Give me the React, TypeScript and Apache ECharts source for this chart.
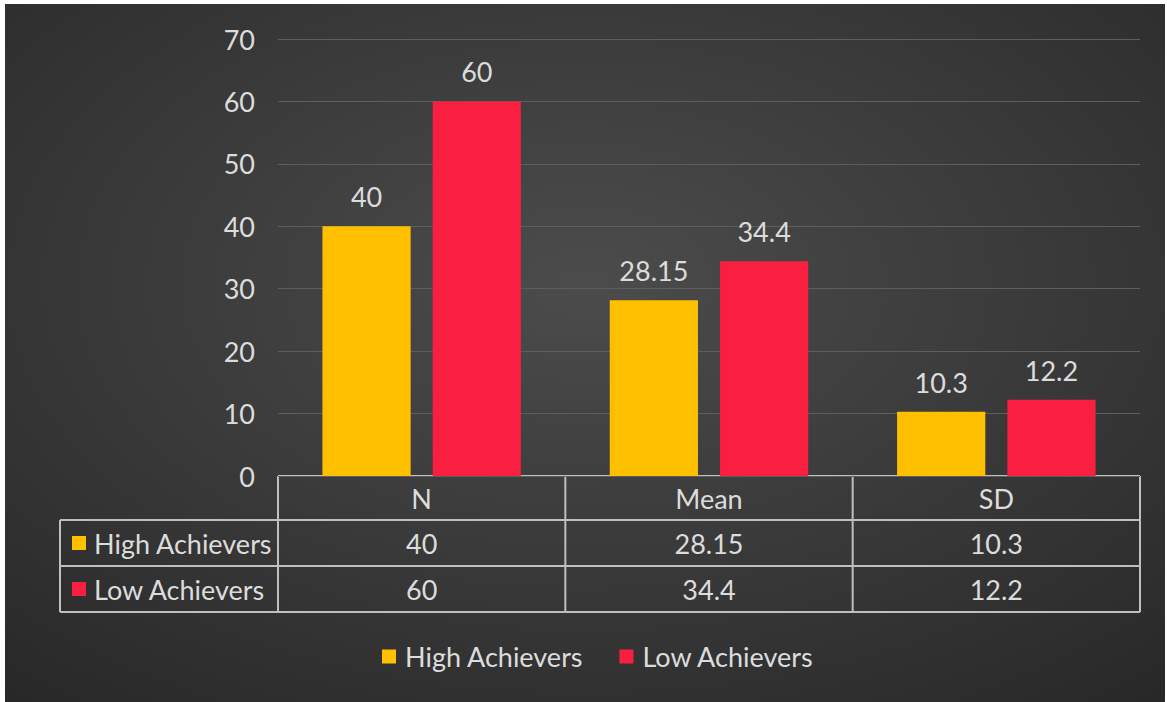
import React, { useEffect, useRef } from "react";
import * as echarts from "echarts";

const categories = ["N", "Mean", "SD"];
const seriesNames = ["High Achievers", "Low Achievers"];
const highValues = [40, 28.15, 10.3];
const lowValues = [60, 34.4, 12.2];
const colors = ["#FFC000", "#F91F40"];
const yMax = 70;
const yInterval = 10;

const W = 1160;
const H = 698;
const G_LEFT = 273;
const G_RIGHT = 25;
const G_TOP = 35;
const G_BOTTOM = 226;
const FONT = "Lato, 'Open Sans', sans-serif";
const FS = 27;
const TXT = "#dcdcdc";
const LINE = "#bfbfbf";

export default function App() {
  const ref = useRef<HTMLDivElement>(null);
  useEffect(() => {
    if (!ref.current) return;
    const chart = echarts.init(ref.current, undefined, { renderer: "svg" });
    const plotW = W - G_LEFT - G_RIGHT;
    const x0 = G_LEFT;
    const x1 = W - G_RIGHT;
    const yTop = H - G_BOTTOM;
    const rowH = [44, 46, 46];
    const y1 = yTop + rowH[0];
    const y2 = y1 + rowH[1];
    const y3 = y2 + rowH[2];
    const leftX = 55;
    const colW = plotW / categories.length;
    const g: any[] = [];
    const ls = { stroke: LINE, lineWidth: 2 };
    g.push({ type: "line", shape: { x1: x0, y1: yTop, x2: x1, y2: yTop }, style: ls });
    g.push({ type: "line", shape: { x1: leftX, y1: y1, x2: x1, y2: y1 }, style: ls });
    g.push({ type: "line", shape: { x1: leftX, y1: y2, x2: x1, y2: y2 }, style: ls });
    g.push({ type: "line", shape: { x1: leftX, y1: y3, x2: x1, y2: y3 }, style: ls });
    g.push({ type: "line", shape: { x1: leftX, y1: y1, x2: leftX, y2: y3 }, style: ls });
    for (let i = 0; i <= categories.length; i++) {
      const x = x0 + i * colW;
      g.push({ type: "line", shape: { x1: x, y1: yTop, x2: x, y2: y3 }, style: ls });
    }
    const rows = [highValues, lowValues];
    categories.forEach((c, i) => {
      const cx = x0 + (i + 0.5) * colW;
      g.push({ type: "text", x: cx, y: (yTop + y1) / 2, style: { text: c, fill: TXT, font: `${FS}px ${FONT}`, textAlign: "center", textVerticalAlign: "middle" } });
      rows.forEach((r, j) => {
        const cy = j === 0 ? (y1 + y2) / 2 : (y2 + y3) / 2;
        g.push({ type: "text", x: cx, y: cy, style: { text: String(r[i]), fill: TXT, font: `${FS}px ${FONT}`, textAlign: "center", textVerticalAlign: "middle" } });
      });
    });
    seriesNames.forEach((n, j) => {
      const cy = j === 0 ? (y1 + y2) / 2 : (y2 + y3) / 2;
      g.push({ type: "rect", shape: { x: leftX + 12, y: cy - 7, width: 14, height: 14 }, style: { fill: colors[j] } });
      g.push({ type: "text", x: leftX + 34, y: cy, style: { text: n, fill: TXT, font: `${FS}px ${FONT}`, textAlign: "left", textVerticalAlign: "middle" } });
    });

    chart.setOption({
      animation: false,
      backgroundColor: {
        type: "radial", x: 0.5, y: 0.4, r: 0.8,
        colorStops: [{ offset: 0, color: "#4c4c4c" }, { offset: 1, color: "#272727" }],
      },
      textStyle: { fontFamily: FONT },
      grid: { left: G_LEFT, right: G_RIGHT, top: G_TOP, bottom: G_BOTTOM, containLabel: false },
      legend: {
        bottom: 27, left: 372, icon: "rect", itemWidth: 14, itemHeight: 14, itemGap: 36,
        textStyle: { color: TXT, fontSize: FS, fontFamily: FONT, padding: [0, 0, 0, 4] },
        data: seriesNames,
      },
      xAxis: {
        type: "category", data: categories,
        axisLine: { show: false }, axisTick: { show: false }, axisLabel: { show: false },
      },
      yAxis: {
        type: "value", min: 0, max: yMax, interval: yInterval,
        axisLine: { show: false }, axisTick: { show: false },
        axisLabel: { color: TXT, fontSize: FS, fontFamily: FONT, margin: 23 },
        splitLine: { lineStyle: { color: "#5e5e5e", width: 1 } },
      },
      series: [
        {
          name: seriesNames[0], type: "bar", data: highValues, barWidth: "30.7%", barGap: "25%",
          itemStyle: { color: colors[0] },
          label: { show: true, position: "top", distance: 16, color: TXT, fontSize: FS, fontFamily: FONT },
        },
        {
          name: seriesNames[1], type: "bar", data: lowValues, barWidth: "30.7%",
          itemStyle: { color: colors[1] },
          label: { show: true, position: "top", distance: 16, color: TXT, fontSize: FS, fontFamily: FONT },
        },
      ],
      graphic: g,
    });
    return () => chart.dispose();
  }, []);
  return (
    <div style={{ position: "fixed", left: 0, top: 0, width: 1167, height: 702, background: "#fff" }}>
      <div ref={ref} style={{ position: "absolute", left: 5, top: 4, width: W, height: H }} />
    </div>
  );
}
